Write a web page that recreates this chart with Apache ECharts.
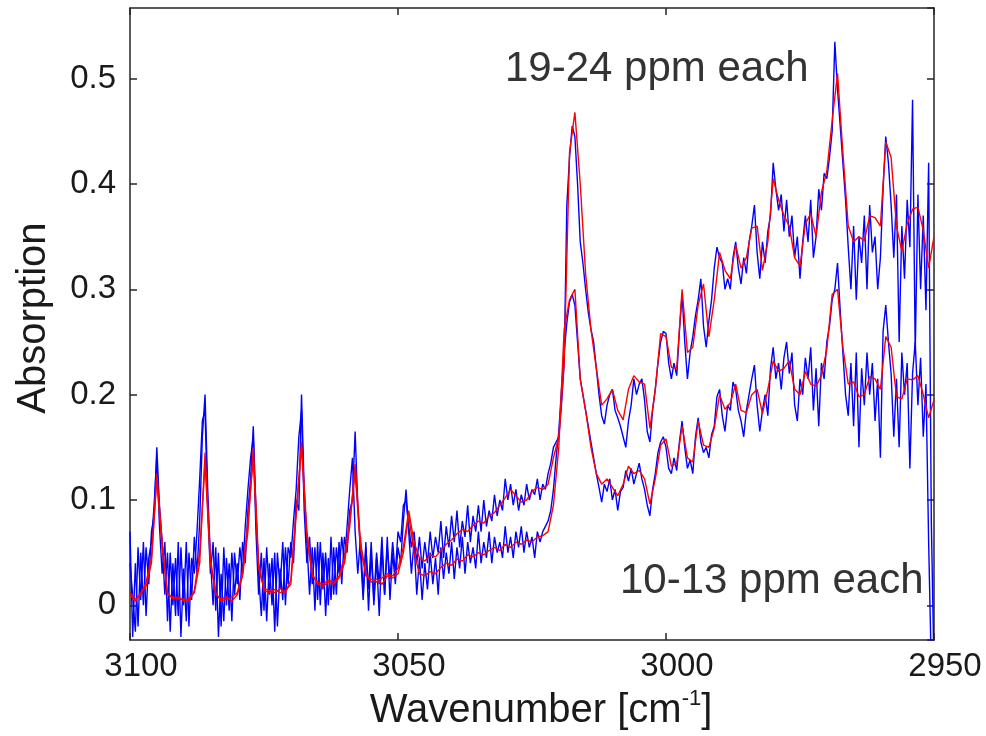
<!DOCTYPE html>
<html>
<head>
<meta charset="utf-8">
<style>
html, body { margin: 0; padding: 0; background: #fff; }
#main { width: 986px; height: 736px; }
</style>
<script src="https://cdn.jsdelivr.net/npm/echarts@6/dist/echarts.min.js"></script>
</head>
<body>
<div id="main"></div>
<script>
// spectra sampled from 3100 cm-1 downwards
var RED_START = 3100, RED_STEP = 1;
var BLUE_START = 3100, BLUE_STEP = 0.5;

var xTicks = [3100, 3050, 3000, 2950];
var yTicks = [0, 0.1, 0.2, 0.3, 0.4, 0.5];

// 10-13 ppm, smoothed (red), 1 cm-1 steps
var redLow = [
  0.010,0.004,0.012,0.018,0.040,0.125,0.060,0.012,0.006,0.008,
  0.004,0.006,0.012,0.040,0.145,0.045,0.010,0.006,0.008,0.004,
  0.010,0.028,0.070,0.150,0.040,0.014,0.012,0.015,0.012,0.014,
  0.020,0.085,0.155,0.070,0.030,0.020,0.018,0.022,0.020,0.026,
  0.040,0.075,0.134,0.060,0.030,0.022,0.025,0.020,0.028,0.026,
  0.030,0.050,0.085,0.050,0.030,0.028,0.032,0.030,0.036,0.040,
  0.038,0.044,0.042,0.048,0.046,0.050,0.048,0.052,0.055,0.052,
  0.058,0.055,0.060,0.058,0.062,0.060,0.065,0.066,0.070,0.095,
  0.150,0.262,0.290,0.300,0.215,0.185,0.150,0.125,0.115,0.120,
  0.112,0.104,0.115,0.132,0.125,0.128,0.120,0.096,0.120,0.152,
  0.158,0.132,0.135,0.170,0.140,0.136,0.175,0.152,0.150,0.168,
  0.200,0.186,0.192,0.210,0.185,0.183,0.200,0.205,0.182,0.205,
  0.232,0.222,0.225,0.232,0.205,0.200,0.222,0.210,0.208,0.218,
  0.243,0.295,0.300,0.245,0.210,0.212,0.198,0.200,0.217,0.215,
  0.205,0.255,0.245,0.198,0.196,0.215,0.214,0.218,0.200,0.178,
  0.195
];

// 19-24 ppm, smoothed (red)
var redHigh = [
  0.012,0.006,0.010,0.022,0.045,0.120,0.055,0.010,0.008,0.006,
  0.006,0.004,0.014,0.050,0.135,0.040,0.012,0.004,0.006,0.008,
  0.012,0.030,0.080,0.140,0.035,0.016,0.014,0.012,0.016,0.012,
  0.024,0.090,0.150,0.065,0.028,0.022,0.020,0.024,0.022,0.028,
  0.045,0.080,0.125,0.055,0.028,0.025,0.022,0.026,0.030,0.028,
  0.035,0.055,0.090,0.060,0.045,0.042,0.048,0.046,0.052,0.058,
  0.062,0.068,0.072,0.070,0.076,0.080,0.078,0.085,0.088,0.095,
  0.102,0.110,0.104,0.098,0.100,0.108,0.112,0.110,0.115,0.140,
  0.160,0.230,0.430,0.468,0.400,0.315,0.262,0.225,0.190,0.196,
  0.205,0.185,0.176,0.205,0.218,0.212,0.210,0.168,0.205,0.258,
  0.255,0.226,0.225,0.300,0.240,0.245,0.285,0.305,0.255,0.290,
  0.335,0.318,0.310,0.342,0.320,0.330,0.358,0.360,0.318,0.345,
  0.405,0.385,0.370,0.360,0.330,0.322,0.362,0.372,0.350,0.392,
  0.412,0.460,0.505,0.430,0.360,0.345,0.350,0.346,0.370,0.368,
  0.360,0.440,0.425,0.360,0.336,0.362,0.376,0.378,0.356,0.320,
  0.350
];

// 10-13 ppm, raw (blue), 0.5 cm-1 steps
var blueLow = [
  0.070,-0.030,0.040,-0.020,0.050,0.000,0.055,0.020,0.070,0.085,
  0.150,0.095,0.060,0.010,0.050,-0.025,0.040,-0.010,0.060,-0.030,
  0.035,-0.015,0.050,0.005,0.065,0.030,0.080,0.160,0.200,0.110,
  0.045,0.000,0.055,-0.030,0.030,-0.015,0.045,-0.005,0.050,0.010,
  0.040,0.005,0.060,0.040,0.090,0.120,0.170,0.090,0.030,-0.010,
  0.045,-0.015,0.040,0.000,0.050,-0.020,0.035,0.005,0.055,0.020,
  0.060,0.040,0.100,0.090,0.200,0.110,0.060,0.010,0.055,-0.005,
  0.060,0.000,0.050,-0.010,0.045,0.005,0.055,0.010,0.060,0.020,
  0.065,0.050,0.090,0.100,0.165,0.095,0.050,0.005,0.060,-0.005,
  0.050,0.000,0.045,-0.010,0.055,0.010,0.065,0.005,0.050,0.020,
  0.055,0.040,0.080,0.110,0.070,0.030,0.060,0.010,0.045,0.005,
  0.040,0.015,0.050,0.020,0.045,0.010,0.055,0.025,0.050,0.030,
  0.060,0.025,0.055,0.035,0.065,0.030,0.060,0.040,0.055,0.035,
  0.070,0.040,0.060,0.045,0.070,0.040,0.065,0.050,0.060,0.045,
  0.075,0.050,0.065,0.045,0.070,0.055,0.075,0.050,0.070,0.055,
  0.065,0.045,0.070,0.060,0.070,0.075,0.080,0.090,0.110,0.140,
  0.165,0.205,0.240,0.268,0.288,0.295,0.285,0.250,0.215,0.200,
  0.185,0.170,0.155,0.140,0.125,0.112,0.098,0.115,0.108,0.120,
  0.100,0.110,0.090,0.108,0.112,0.128,0.118,0.130,0.115,0.125,
  0.135,0.120,0.110,0.095,0.085,0.110,0.125,0.145,0.155,0.160,
  0.150,0.130,0.125,0.140,0.128,0.155,0.175,0.150,0.130,0.138,
  0.125,0.160,0.178,0.155,0.145,0.150,0.140,0.162,0.170,0.198,
  0.205,0.180,0.165,0.190,0.185,0.212,0.205,0.185,0.175,0.160,
  0.185,0.200,0.215,0.228,0.190,0.165,0.185,0.200,0.180,0.225,
  0.245,0.215,0.230,0.205,0.235,0.250,0.220,0.240,0.190,0.175,
  0.215,0.200,0.235,0.215,0.245,0.185,0.225,0.170,0.230,0.215,
  0.250,0.265,0.290,0.300,0.325,0.280,0.240,0.200,0.180,0.230,
  0.170,0.240,0.150,0.225,0.190,0.240,0.200,0.230,0.175,0.215,
  0.140,0.260,0.285,0.250,0.220,0.160,0.215,0.150,0.240,0.200,
  0.230,0.130,0.220,0.250,0.190,0.235,0.160,0.210,0.060,-0.060,
  -0.060
];

// 19-24 ppm, raw (blue)
var blueHigh = [
  0.040,0.010,-0.025,0.055,0.005,0.060,-0.010,0.045,0.060,0.095,
  0.140,0.075,0.030,0.060,-0.015,0.050,0.000,0.045,-0.010,0.055,
  0.000,0.060,-0.020,0.045,0.030,0.070,0.120,0.175,0.185,0.090,
  0.030,0.060,-0.005,0.050,-0.020,0.055,0.000,0.040,-0.015,0.050,
  0.020,0.055,0.030,0.075,0.110,0.140,0.160,0.070,0.010,0.050,
  -0.005,0.055,0.010,0.045,-0.025,0.050,0.015,0.060,0.000,0.055,
  0.045,0.080,0.110,0.160,0.185,0.090,0.040,0.065,0.020,0.055,
  0.005,0.060,0.015,0.050,0.000,0.065,0.010,0.055,0.030,0.065,
  0.040,0.075,0.110,0.140,0.070,0.030,0.065,0.010,0.055,0.015,
  0.060,0.005,0.050,0.020,0.065,0.010,0.055,0.025,0.060,0.030,
  0.070,0.060,0.095,0.100,0.075,0.055,0.070,0.040,0.065,0.035,
  0.060,0.040,0.070,0.045,0.065,0.050,0.080,0.045,0.075,0.055,
  0.085,0.060,0.090,0.055,0.080,0.065,0.095,0.060,0.085,0.070,
  0.095,0.070,0.100,0.075,0.090,0.080,0.105,0.085,0.100,0.090,
  0.120,0.100,0.115,0.095,0.110,0.090,0.105,0.095,0.115,0.100,
  0.110,0.105,0.120,0.100,0.115,0.110,0.125,0.135,0.150,0.155,
  0.160,0.190,0.230,0.380,0.425,0.455,0.445,0.400,0.345,0.325,
  0.300,0.278,0.262,0.250,0.225,0.200,0.180,0.172,0.190,0.200,
  0.205,0.185,0.178,0.170,0.160,0.150,0.175,0.190,0.215,0.200,
  0.210,0.215,0.195,0.165,0.155,0.185,0.205,0.230,0.250,0.260,
  0.258,0.230,0.215,0.230,0.218,0.260,0.295,0.250,0.215,0.240,
  0.255,0.275,0.290,0.310,0.265,0.245,0.270,0.290,0.320,0.340,
  0.330,0.325,0.300,0.310,0.300,0.330,0.345,0.320,0.305,0.330,
  0.315,0.345,0.360,0.380,0.335,0.310,0.345,0.325,0.355,0.370,
  0.420,0.395,0.375,0.390,0.355,0.385,0.350,0.370,0.330,0.350,
  0.310,0.345,0.370,0.345,0.385,0.330,0.350,0.395,0.375,0.410,
  0.405,0.425,0.450,0.535,0.490,0.455,0.420,0.385,0.340,0.300,
  0.360,0.290,0.350,0.325,0.370,0.300,0.380,0.335,0.350,0.300,
  0.330,0.395,0.445,0.420,0.380,0.330,0.390,0.250,0.360,0.310,
  0.385,0.340,0.480,0.240,0.390,0.300,0.370,0.280,0.420,0.080,
  -0.060
];

var FONT = '"Liberation Sans", Arial, sans-serif';
var AXIS_COLOR = '#262626';

function toPairs(values, start, step) {
    return values.map(function (v, i) { return [start - i * step, v]; });
}

function boxXAxis(pos, withLabels) {
    return {
        type: 'value',
        position: pos,
        min: xTicks[xTicks.length - 1],
        max: xTicks[0],
        interval: 50,
        inverse: true,
        axisLine: { show: true, onZero: false, lineStyle: { color: AXIS_COLOR, width: 1.5 } },
        axisTick: { show: true, inside: true, length: 7, lineStyle: { color: AXIS_COLOR, width: 1.5 } },
        axisLabel: {
            show: withLabels, fontSize: 33, color: '#1a1a1a', fontFamily: FONT,
            margin: 10, padding: [0, 0, 0, 22],
            formatter: function (v) { return String(v); }
        },
        splitLine: { show: false }
    };
}

function boxYAxis(pos, withLabels) {
    return {
        type: 'value',
        position: pos,
        min: -0.033,
        max: 0.567,
        splitNumber: 6,
        axisLine: { show: true, onZero: false, lineStyle: { color: AXIS_COLOR, width: 1.5 } },
        axisTick: { show: true, inside: true, length: 7, lineStyle: { color: AXIS_COLOR, width: 1.5 } },
        axisLabel: {
            show: withLabels, showMinLabel: false, showMaxLabel: false,
            fontSize: 33, color: '#1a1a1a', fontFamily: FONT,
            margin: 14, padding: [22, 0, 0, 0],
            formatter: function (v) {
                var r = Math.round(v * 10) / 10;
                return yTicks.indexOf(r) >= 0 ? String(r) : '';
            }
        },
        splitLine: { show: false }
    };
}

var xBottom = boxXAxis('bottom', true);
xBottom.name = '{a|Wavenumber [cm}{s|-1}{a|]}';
xBottom.nameLocation = 'middle';
xBottom.nameGap = 42;
xBottom.nameTextStyle = {
    padding: [0, 0, 0, 18],
    rich: {
        a: { fontSize: 40, fontFamily: FONT, color: '#1a1a1a', lineHeight: 46 },
        s: { fontSize: 22, fontFamily: FONT, color: '#1a1a1a', verticalAlign: 'top', lineHeight: 24 }
    }
};

var yLeft = boxYAxis('left', true);
yLeft.name = 'Absorption';
yLeft.nameLocation = 'middle';
yLeft.nameGap = 76;
yLeft.nameTextStyle = { fontSize: 40, fontFamily: FONT, color: '#1a1a1a', padding: [0, 0, 0, 12] };

function line(name, data, color) {
    return {
        name: name,
        type: 'line',
        data: data,
        showSymbol: false,
        clip: true,
        lineStyle: { color: color, width: 1.4 },
        itemStyle: { color: color },
        animation: false
    };
}

var chart = echarts.init(document.getElementById('main'));
chart.setOption({
    animation: false,
    backgroundColor: '#fff',
    grid: { left: 130, right: 52, top: 8, bottom: 95, containLabel: false },
    xAxis: [xBottom, boxXAxis('top', false)],
    yAxis: [yLeft, boxYAxis('right', false)],
    graphic: [
        {
            type: 'text', x: 505, y: 69,
            style: { text: '19-24 ppm each', fontSize: 42, fontFamily: FONT, fill: '#333', verticalAlign: 'middle' }
        },
        {
            type: 'text', x: 620, y: 581,
            style: { text: '10-13 ppm each', fontSize: 42, fontFamily: FONT, fill: '#333', verticalAlign: 'middle' }
        }
    ],
    series: [
        line('raw 10-13 ppm', toPairs(blueLow, BLUE_START, BLUE_STEP), '#0000ff'),
        line('raw 19-24 ppm', toPairs(blueHigh, BLUE_START, BLUE_STEP), '#0000ff'),
        line('fit 10-13 ppm', toPairs(redLow, RED_START, RED_STEP), '#ff0000'),
        line('fit 19-24 ppm', toPairs(redHigh, RED_START, RED_STEP), '#ff0000')
    ]
});
</script>
</body>
</html>
